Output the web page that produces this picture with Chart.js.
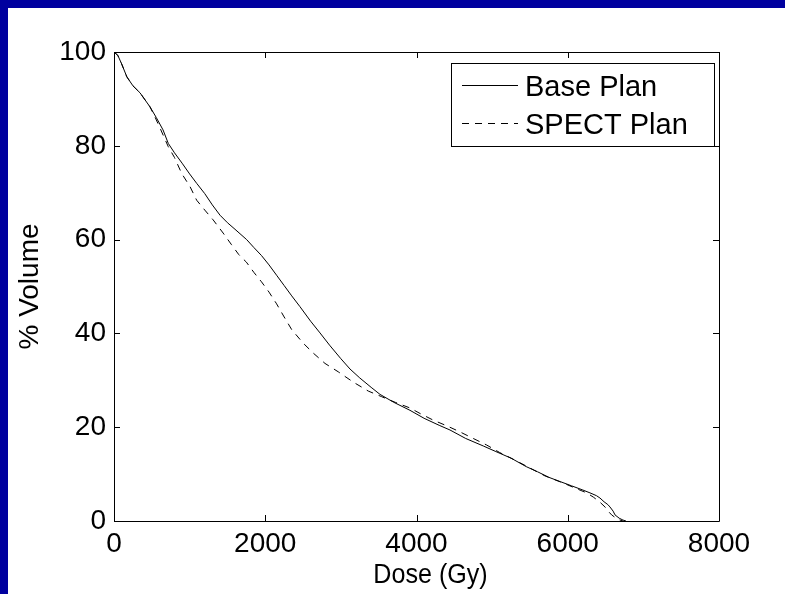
<!DOCTYPE html>
<html>
<head>
<meta charset="utf-8">
<title>Dose Volume Histogram</title>
<script src="https://cdn.jsdelivr.net/npm/chart.js@4/dist/chart.umd.min.js"></script>
<style>
  html, body { margin: 0; padding: 0; width: 785px; height: 594px; overflow: hidden; background: #00009f; }
  #frame { position: absolute; left: 8px; top: 8px; width: 777px; height: 586px; background: #ffffff; }
  canvas { display: block; }
</style>
</head>
<body>
<div id="frame"><canvas id="dvh" width="777" height="586"></canvas></div>
<script>
// Cumulative dose-volume histogram: base plan vs SPECT-guided plan
const baseDose = [0, 50, 100, 170, 250, 344, 476, 560, 648, 718, 800, 900, 1000, 1093, 1200, 1300, 1402, 1500, 1600, 1754, 1850, 1950, 2050, 2150, 2250, 2350, 2459, 2600, 2724, 2850, 3000, 3121, 3250, 3400, 3517, 3700, 3914, 4100, 4300, 4443, 4650, 4883, 5050, 5250, 5450, 5600, 5752, 5900, 6050, 6200, 6294, 6380, 6426, 6480, 6530, 6558, 6600, 6625, 6680, 6730, 6770];
const baseVolume = [100, 99.3, 97.5, 94.7, 92.8, 91.3, 88.3, 86.0, 83.4, 80.5, 78.5, 76.3, 74.0, 72.0, 69.8, 67.4, 65.2, 63.6, 62.2, 60.0, 58.3, 56.6, 54.6, 52.4, 50.2, 48.0, 45.7, 42.6, 40.1, 37.5, 34.6, 32.4, 30.5, 28.5, 27.0, 25.3, 23.6, 21.9, 20.4, 19.4, 17.6, 16.0, 14.8, 13.4, 11.6, 10.5, 9.3, 8.4, 7.5, 6.6, 6.0, 5.4, 4.9, 4.1, 3.5, 3.0, 2.1, 1.3, 0.6, 0.2, 0];

const spectDose = [0, 50, 100, 170, 250, 344, 476, 540, 608, 718, 800, 895, 1005, 1093, 1200, 1311, 1443, 1550, 1650, 1750, 1850, 1950, 2050, 2150, 2250, 2350, 2503, 2635, 2790, 2966, 3165, 3363, 3540, 3720, 3914, 4050, 4222, 4400, 4575, 4750, 4928, 5100, 5300, 5500, 5700, 5940, 6100, 6250, 6338, 6420, 6492, 6540, 6580, 6640, 6690, 6730];
const spectVolume = [100, 99.3, 97.5, 94.7, 92.8, 91.3, 88.3, 86.2, 83.8, 79.8, 77.5, 74.1, 71.3, 68.4, 66.3, 64.2, 61.4, 59.0, 56.8, 55.2, 53.0, 51.0, 48.8, 46.3, 43.5, 40.8, 37.9, 35.8, 33.6, 31.8, 29.6, 27.7, 26.5, 25.3, 24.1, 22.9, 21.5, 20.3, 19.0, 17.6, 16.2, 14.6, 13.0, 11.3, 9.6, 8.1, 7.0, 6.0, 5.1, 4.1, 3.0, 2.0, 1.3, 0.6, 0.2, 0];

const seriesLabels = ['Base Plan', 'SPECT Plan'];
const xTicks = [0, 2000, 4000, 6000, 8000];
const yTicks = [0, 20, 40, 60, 80, 100];
const xTitle = 'Dose (Gy)';
const yTitle = '% Volume';

const FONT = "'Liberation Sans', Arial, Helvetica, sans-serif";

function toPoints(xs, ys) {
  return xs.map((x, i) => ({ x: x, y: ys[i] }));
}

// Axes box with inward tick marks on all four sides
const boxAxes = {
  id: 'boxAxes',
  afterDatasetsDraw(chart) {
    const { ctx, chartArea: a, scales: { x, y } } = chart;
    const len = 6;
    ctx.save();
    ctx.strokeStyle = '#000';
    ctx.lineWidth = 1;
    ctx.beginPath();
    ctx.rect(Math.round(a.left) + 0.5, Math.round(a.top) + 0.5,
             Math.round(a.right - a.left), Math.round(a.bottom - a.top));
    x.ticks.forEach(t => {
      const px = Math.round(x.getPixelForValue(t.value)) + 0.5;
      ctx.moveTo(px, a.bottom); ctx.lineTo(px, a.bottom - len);
      ctx.moveTo(px, a.top); ctx.lineTo(px, a.top + len);
    });
    y.ticks.forEach(t => {
      const py = Math.round(y.getPixelForValue(t.value)) + 0.5;
      ctx.moveTo(a.left, py); ctx.lineTo(a.left + len, py);
      ctx.moveTo(a.right, py); ctx.lineTo(a.right - len, py);
    });
    ctx.stroke();
    ctx.restore();
  }
};

// Dose axis caption, set a little right of the axis centre
const doseCaption = {
  id: 'doseCaption',
  afterDraw(chart) {
    const { ctx, chartArea: a } = chart;
    const cx = (a.left + a.right) / 2 + 14;
    const squeeze = 0.93;
    ctx.save();
    ctx.fillStyle = '#000';
    ctx.font = '27px ' + FONT;
    ctx.textAlign = 'center';
    ctx.textBaseline = 'alphabetic';
    ctx.translate(cx, a.bottom + 62);
    ctx.scale(squeeze, 1);
    ctx.fillText(xTitle, 0, 0);
    ctx.restore();
  }
};

// Boxed legend in the upper-right corner of the plot area
const boxLegend = {
  id: 'boxLegend',
  afterDraw(chart) {
    const { ctx, chartArea: a } = chart;
    const w = 263, h = 83;
    const left = Math.round(a.right - 5 - w), top = Math.round(a.top + 11);
    ctx.save();
    ctx.fillStyle = '#fff';
    ctx.fillRect(left, top, w, h);
    ctx.strokeStyle = '#000';
    ctx.lineWidth = 1;
    ctx.strokeRect(left + 0.5, top + 0.5, w, h);
    const rows = [22, 60];
    chart.data.datasets.forEach((ds, i) => {
      const ly = top + rows[i] + 0.5;
      ctx.beginPath();
      ctx.setLineDash(ds.borderDash || []);
      ctx.strokeStyle = ds.borderColor;
      ctx.lineWidth = ds.borderWidth;
      ctx.moveTo(left + 11, ly);
      ctx.lineTo(left + 67, ly);
      ctx.stroke();
      ctx.setLineDash([]);
      ctx.fillStyle = '#000';
      ctx.font = '29px ' + FONT;
      ctx.textBaseline = 'alphabetic';
      ctx.textAlign = 'left';
      ctx.fillText(ds.label, left + 74, top + rows[i] + 11);
    });
    ctx.restore();
  }
};

new Chart(document.getElementById('dvh'), {
  type: 'line',
  data: {
    datasets: [
      {
        label: seriesLabels[0],
        data: toPoints(baseDose, baseVolume),
        borderColor: '#000',
        borderWidth: 1,
        pointRadius: 0,
        fill: false,
        tension: 0
      },
      {
        label: seriesLabels[1],
        data: toPoints(spectDose, spectVolume),
        borderColor: '#000',
        borderWidth: 1,
        borderDash: [7, 6],
        pointRadius: 0,
        fill: false,
        tension: 0
      }
    ]
  },
  options: {
    responsive: false,
    animation: false,
    devicePixelRatio: 1,
    layout: { padding: { left: 0, top: 44, right: 66, bottom: 0 } },
    plugins: {
      legend: { display: false },
      tooltip: { enabled: false }
    },
    scales: {
      x: {
        type: 'linear',
        min: 0,
        max: 8000,
        grid: { display: false, drawTicks: false },
        border: { display: false },
        afterBuildTicks: s => { s.ticks = xTicks.map(v => ({ value: v })); },
        afterFit: s => { s.height = 73; },
        ticks: {
          autoSkip: false,
          maxRotation: 0,
          padding: 6,
          color: '#000',
          font: { family: FONT, size: 28 },
          callback: v => String(v)
        },
        title: { display: false }
      },
      y: {
        type: 'linear',
        min: 0,
        max: 100,
        grid: { display: false, drawTicks: false },
        border: { display: false },
        afterBuildTicks: s => { s.ticks = yTicks.map(v => ({ value: v })); },
        afterFit: s => { s.width = 106; },
        ticks: {
          autoSkip: false,
          padding: 8,
          color: '#000',
          font: { family: FONT, size: 28 },
          callback: v => String(v)
        },
        title: {
          display: true,
          text: yTitle,
          color: '#000',
          font: { family: FONT, size: 28 },
          padding: { top: 5, bottom: 0 }
        }
      }
    }
  },
  plugins: [boxAxes, doseCaption, boxLegend]
});
</script>
</body>
</html>
